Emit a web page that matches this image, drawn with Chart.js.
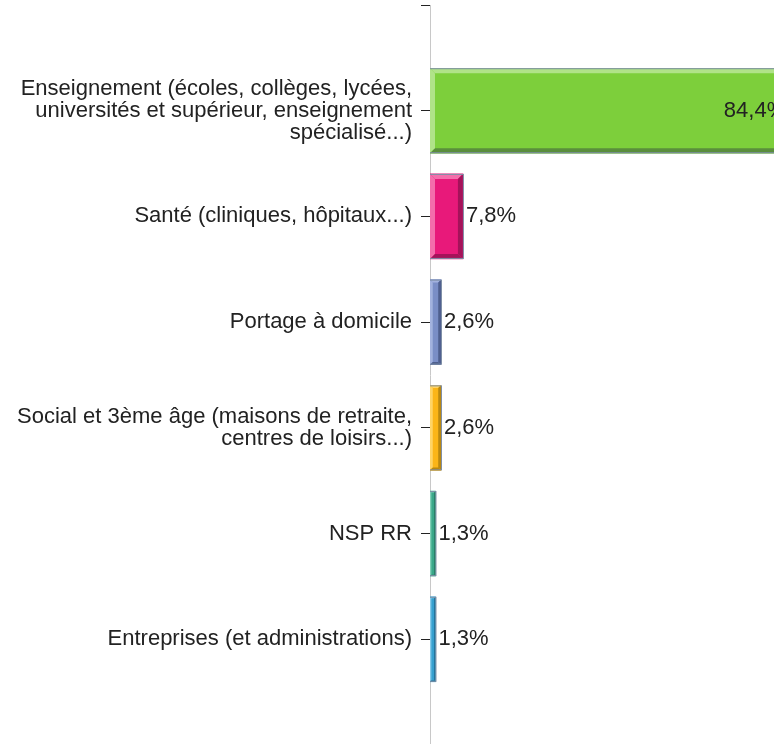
<!DOCTYPE html>
<html>
<head>
<meta charset="utf-8">
<script src="https://cdn.jsdelivr.net/npm/chart.js@4"></script>
<style>
	html, body { margin: 0; padding: 0; overflow: hidden; background: #fff; }
	canvas { display: block; }
</style>
</head>
<body>
<canvas id="secteurChart" width="774" height="745"></canvas>
<script>
const categories = [
	['Enseignement (écoles, collèges, lycées,', 'universités et supérieur, enseignement', 'spécialisé...)'],
	'Santé (cliniques, hôpitaux...)',
	'Portage à domicile',
	['Social et 3ème âge (maisons de retraite,', 'centres de loisirs...)'],
	'NSP RR',
	'Entreprises (et administrations)'
];
const values = [84.4, 7.8, 2.6, 2.6, 1.3, 1.3];
const valueLabels = ['84,4%', '7,8%', '2,6%', '2,6%', '1,3%', '1,3%'];
const barColors = ['#7dcf3b', '#e8197a', '#7a8ec6', '#fbb517', '#3aa88a', '#36a0cf'];
const lightColors = ['#b0e388', '#f36eab', '#a3b2de', '#ffd466', '#7fcfb6', '#86c9e8'];
const darkColors = ['#5a8e3c', '#a5125a', '#4f5f8e', '#b98810', '#2a7a64', '#236f94'];

// empty slot above and below so the axis runs past the bars
const axisLabels = [''].concat(categories, ['']);
const axisValues = [null].concat(values, [null]);

const labelFont = 'Liberation Sans, Arial, sans-serif';

// bevelled edges + value text on each bar
const bevelPlugin = {
	id: 'bevel',
	afterDatasetsDraw(chart) {
		const ctx = chart.ctx;
		const meta = chart.getDatasetMeta(0);
		const area = chart.chartArea;
		ctx.save();
		meta.data.forEach((bar, i) => {
			const idx = i - 1;
			if (idx < 0 || idx >= values.length) return;
			const l = bar.base, r = bar.x;
			const t = bar.y - bar.height / 2, b = bar.y + bar.height / 2;
			const w = Math.min(5, (r - l) / 4);
			ctx.save();
			ctx.beginPath();
			ctx.rect(area.left, area.top, chart.width - area.left, area.bottom - area.top);
			ctx.clip();
			if (w > 0.8) {
				ctx.fillStyle = lightColors[idx];
				ctx.beginPath();
				ctx.moveTo(l, t); ctx.lineTo(r, t); ctx.lineTo(r - w, t + w); ctx.lineTo(l + w, t + w);
				ctx.closePath(); ctx.fill();
				ctx.beginPath();
				ctx.moveTo(l, t); ctx.lineTo(l + w, t + w); ctx.lineTo(l + w, b - w); ctx.lineTo(l, b);
				ctx.closePath(); ctx.fill();
				ctx.fillStyle = darkColors[idx];
				ctx.beginPath();
				ctx.moveTo(l, b); ctx.lineTo(l + w, b - w); ctx.lineTo(r - w, b - w); ctx.lineTo(r, b);
				ctx.closePath(); ctx.fill();
				ctx.beginPath();
				ctx.moveTo(r, t); ctx.lineTo(r, b); ctx.lineTo(r - w, b - w); ctx.lineTo(r - w, t + w);
				ctx.closePath(); ctx.fill();
			}
			ctx.strokeStyle = '#7d8ea6';
			ctx.lineWidth = 1;
			ctx.strokeRect(l - 0.5, t + 0.5, r - l + 1, b - t - 1);
			ctx.restore();

			ctx.fillStyle = '#222';
			ctx.font = '22px ' + labelFont;
			ctx.textBaseline = 'middle';
			if (values[idx] > 50) {
				ctx.textAlign = 'right';
				ctx.fillText(valueLabels[idx], r, bar.y);
			} else {
				ctx.textAlign = 'left';
				ctx.fillText(valueLabels[idx], r + 3, bar.y);
			}
		});
		ctx.restore();
	}
};

new Chart(document.getElementById('secteurChart').getContext('2d'), {
	type: 'bar',
	data: {
		labels: axisLabels,
		datasets: [{
			data: axisValues,
			backgroundColor: [null].concat(barColors),
			borderWidth: 0,
			barThickness: 85
		}]
	},
	options: {
		indexAxis: 'y',
		responsive: false,
		animation: false,
		layout: { padding: { top: 5, right: 0, bottom: 0, left: 0 } },
		scales: {
			x: {
				display: false,
				min: 0,
				max: 81.5
			},
			y: {
				offset: false,
				grid: {
					offset: false,
					drawOnChartArea: false,
					drawTicks: true,
					tickLength: 9,
					tickColor: '#222'
				},
				border: { color: '#c8c8c8' },
				ticks: {
					autoSkip: false,
					padding: 9,
					color: '#222',
					font: { family: labelFont, size: 22, lineHeight: 1.0 }
				},
				afterFit(scale) {
					scale.width = 430;
					scale.paddingTop = 0;
					scale.paddingBottom = 0;
				}
			}
		},
		plugins: {
			legend: { display: false },
			tooltip: { enabled: false }
		}
	},
	plugins: [bevelPlugin]
});
</script>
</body>
</html>
